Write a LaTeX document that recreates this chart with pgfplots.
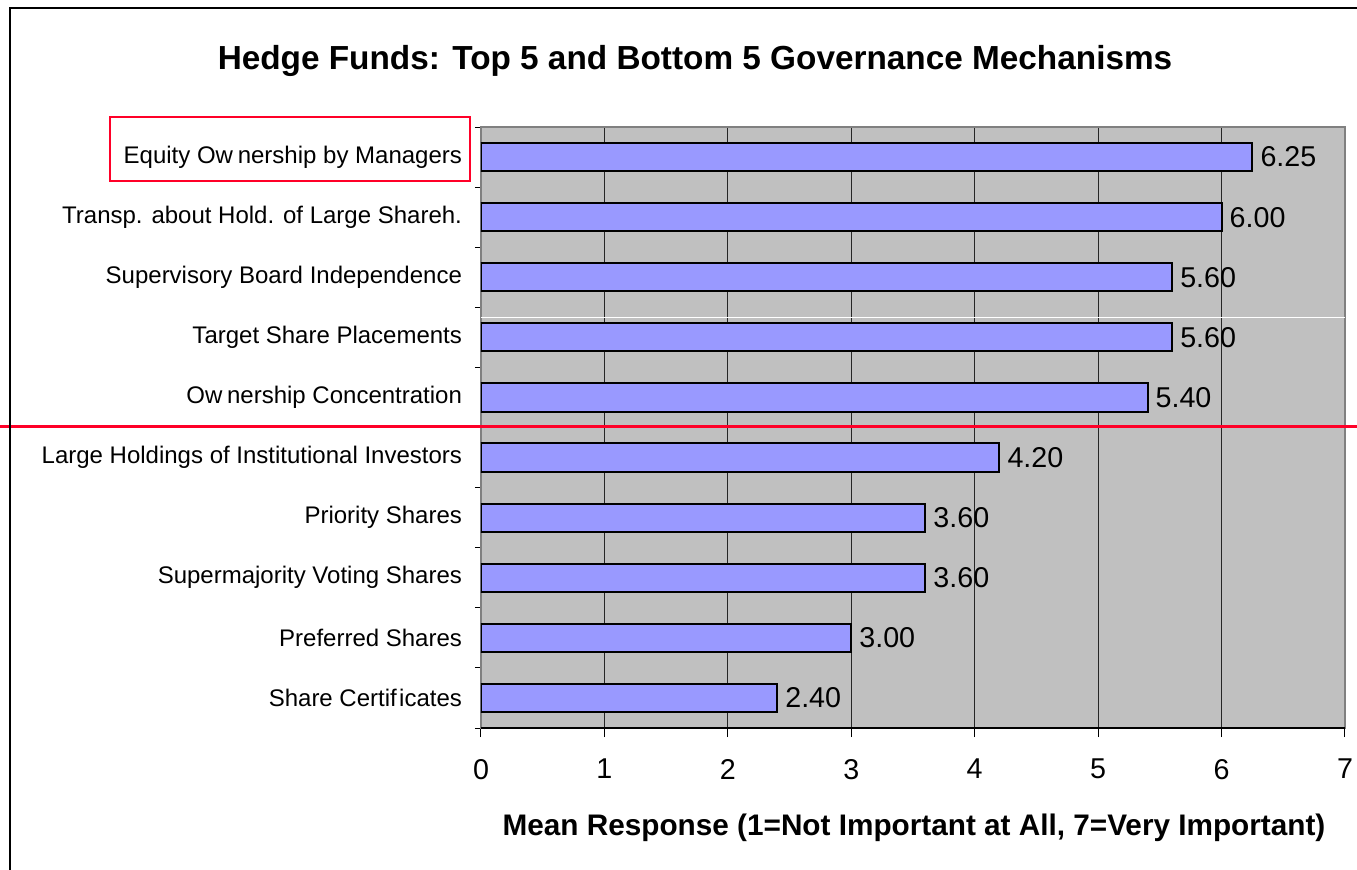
\documentclass[border=0pt]{standalone}
\usepackage{pgfplots}
\pgfplotsset{compat=1.18}
\usepackage{fontspec}
\setmainfont{Liberation Sans}
\definecolor{barfill}{RGB}{153,153,255}
\definecolor{plotbg}{RGB}{192,192,192}
\definecolor{redline}{RGB}{255,0,40}
\begin{document}
\begin{tikzpicture}[x=0.75pt,y=0.75pt]
\useasboundingbox (0,0) rectangle (1357,870);
\begin{axis}[
  at={(360.75pt,106.5pt)}, anchor=south west,
  scale only axis, width=648pt, height=450.75pt,
  xbar, bar width=0.47,
  xmin=0, xmax=7, ymin=-0.5, ymax=9.5, y dir=reverse,
  xtick={0,1,...,7},
  ytick={0,1,...,9},
  yticklabels={Equity Ow\kern0.2em nership by Managers,
    Transp. about Hold. of Large Shareh.,
    Supervisory Board Independence,
    Target Share Placements,
    Ow\kern0.2em nership Concentration,
    Large Holdings of Institutional Investors,
    Priority Shares,
    Supermajority Voting Shares,
    Preferred Shares,
    Share Certif\kern0.1em icates},
  minor ytick={-0.5,0.5,...,9.5},
  xtick pos=bottom, ytick pos=left,
  tick align=outside,
  major tick length=6.75pt, minor tick length=4.5pt,
  major y tick style={draw=none},
  tick style={black, line width=0.75pt},
  xmajorgrids,
  major grid style={black!85, line width=0.75pt},
  axis background/.style={fill=plotbg},
  axis line style={draw=black!50, line width=1.5pt},
  xticklabel style={font=\fontsize{21.5}{22}\selectfont, yshift=-13pt},
  yticklabel style={font=\fontsize{18}{19}\selectfont, xshift=-4pt},
  /pgf/number format/assume math mode=true,
  nodes near coords={\pgfmathprintnumber[fixed,fixed zerofill,precision=2]{\pgfplotspointmeta}},
  nodes near coords align={horizontal},
  every node near coord/.append style={font=\fontsize{21.5}{22}\selectfont, black, xshift=2pt},
]
\draw[white, line width=0.75pt] (axis cs:0,2.667) -- (axis cs:7,2.667);
\addplot[fill=barfill, draw=black, line width=1.5pt] coordinates {
  (6.25,0) (6.00,1) (5.60,2) (5.60,3) (5.40,4)
  (4.20,5) (3.60,6) (3.60,7) (3.00,8) (2.40,9)};
\end{axis}
\draw[black, line width=1.2pt] (481,142) -- (1345,142);
\draw[redline, line width=2.25pt] (0,443) -- (1357,443);
\draw[redline, line width=2pt] (110,689) rectangle (470,753);
\draw[black, line width=1.2pt] (10,0) -- (10,862) -- (1357,862);
\node[anchor=base, font=\fontsize{25}{27}\selectfont\bfseries] at (695,800) {Hedge Funds: Top 5 and Bottom 5 Governance Mechanisms};
\node[anchor=base, font=\fontsize{22.3}{24}\selectfont\bfseries] at (914,34) {Mean Response (1=Not Important at All, 7=Very Important)};
\end{tikzpicture}
\end{document}
